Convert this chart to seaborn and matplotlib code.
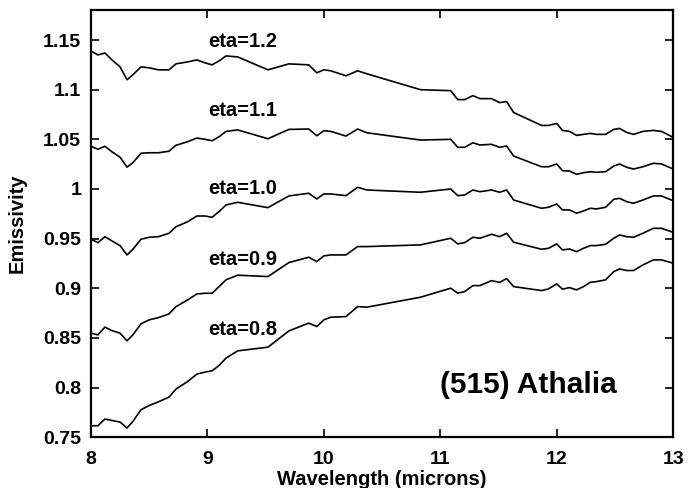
import numpy as np
import pandas as pd
import matplotlib
matplotlib.use("Agg")
import matplotlib.pyplot as plt
import matplotlib.ticker as plticker
import seaborn as sns

sns.set_style("ticks")
plt.rcParams['font.family'] = ['Liberation Sans', 'DejaVu Sans']
plt.rcParams['font.weight'] = 'bold'
plt.rcParams['text.color'] = 'black'
plt.rcParams['axes.labelcolor'] = 'black'
plt.rcParams['xtick.color'] = 'black'
plt.rcParams['ytick.color'] = 'black'

# wavelength grid (microns) shared by all curves
wavelength = [8.00, 8.06, 8.12, 8.18, 8.25, 8.31, 8.36, 8.43, 8.50, 8.58,
              8.67, 8.73, 8.83, 8.91, 8.98, 9.04, 9.10, 9.16, 9.26, 9.52,
              9.70, 9.87, 9.94, 10.00, 10.06, 10.19, 10.29, 10.37, 10.83, 11.09,
              11.15, 11.21, 11.28, 11.34, 11.44, 11.51, 11.57, 11.63, 11.87, 11.93,
              12.00, 12.05, 12.11, 12.17, 12.23, 12.29, 12.34, 12.42, 12.49, 12.54,
              12.60, 12.66, 12.74, 12.83, 12.90, 13.00]

emis_12 = [1.139, 1.135, 1.137, 1.130, 1.123, 1.110, 1.115, 1.123, 1.122, 1.120,
           1.120, 1.126, 1.128, 1.130, 1.127, 1.125, 1.129, 1.134, 1.133, 1.120,
           1.126, 1.125, 1.117, 1.120, 1.119, 1.114, 1.119, 1.116, 1.100, 1.099,
           1.090, 1.090, 1.094, 1.091, 1.091, 1.087, 1.088, 1.077, 1.064, 1.064,
           1.066, 1.059, 1.058, 1.054, 1.055, 1.056, 1.055, 1.055, 1.060, 1.061,
           1.057, 1.055, 1.058, 1.059, 1.058, 1.052]

emis_11 = [1.043, 1.040, 1.043, 1.0375, 1.032, 1.022, 1.0265, 1.036, 1.0365, 1.0365,
           1.038, 1.044, 1.0476, 1.0513, 1.050, 1.0486, 1.0526, 1.058, 1.0595, 1.0506,
           1.060, 1.0604, 1.0536, 1.0587, 1.058, 1.0533, 1.0604, 1.0566, 1.0493, 1.050,
           1.042, 1.042, 1.0466, 1.0443, 1.045, 1.042, 1.0433, 1.0332, 1.0224, 1.0224,
           1.0252, 1.0184, 1.0181, 1.0148, 1.0164, 1.0174, 1.0168, 1.0174, 1.0231, 1.0252,
           1.0219, 1.0201, 1.0224, 1.0259, 1.0252, 1.0201]

emis_10 = [0.9494, 0.946, 0.952, 0.9477, 0.943, 0.9336, 0.9393, 0.9494, 0.9514, 0.952,
           0.9554, 0.962, 0.967, 0.9728, 0.9728, 0.9715, 0.9772, 0.9839, 0.9866, 0.9812,
           0.993, 0.9957, 0.990, 0.995, 0.995, 0.9933, 1.0017, 0.999, 0.9967, 1.000,
           0.9933, 0.994, 0.999, 0.9973, 0.999, 0.9967, 0.999, 0.9889, 0.9806, 0.9816,
           0.9849, 0.9789, 0.9789, 0.9756, 0.9779, 0.9806, 0.9799, 0.9816, 0.9896, 0.9906,
           0.9873, 0.9856, 0.9889, 0.993, 0.993, 0.9882]

emis_09 = [0.8548, 0.8531, 0.8609, 0.8574, 0.8548, 0.8471, 0.8531, 0.8642, 0.8682, 0.8705,
           0.8742, 0.8815, 0.8883, 0.8943, 0.895, 0.895, 0.9017, 0.9085, 0.9132, 0.9118,
           0.9259, 0.9313, 0.9269, 0.9326, 0.9336, 0.9336, 0.942, 0.942, 0.9437, 0.9504,
           0.9447, 0.946, 0.9514, 0.9504, 0.9544, 0.952, 0.9554, 0.9464, 0.9393, 0.9403,
           0.9447, 0.9386, 0.9396, 0.9369, 0.9403, 0.943, 0.943, 0.9443, 0.9504, 0.9537,
           0.952, 0.9514, 0.9554, 0.9604, 0.9604, 0.9564]

emis_08 = [0.7616, 0.7616, 0.7683, 0.7669, 0.7653, 0.7593, 0.7659, 0.7777, 0.782, 0.7857,
           0.7904, 0.7985, 0.8061, 0.8136, 0.8156, 0.8169, 0.8222, 0.8297, 0.837, 0.8407,
           0.8571, 0.8649, 0.8615, 0.8682, 0.8709, 0.8715, 0.8816, 0.881, 0.891, 0.9001,
           0.8951, 0.8967, 0.9027, 0.9027, 0.9077, 0.906, 0.9098, 0.9017, 0.8977, 0.8994,
           0.9044, 0.8991, 0.9007, 0.8984, 0.9017, 0.9061, 0.9067, 0.9085, 0.9168, 0.9195,
           0.9179, 0.9179, 0.9235, 0.9286, 0.9286, 0.9253]

eta_labels = ['eta=1.2', 'eta=1.1', 'eta=1.0', 'eta=0.9', 'eta=0.8']
label_y = [1.149, 1.0795, 1.0, 0.929, 0.859]
y_ticks = [0.75, 0.8, 0.85, 0.9, 0.95, 1.0, 1.05, 1.1, 1.15]
x_ticks = [8, 9, 10, 11, 12, 13]

curves = [emis_12, emis_11, emis_10, emis_09, emis_08]
df = pd.concat([pd.DataFrame({'wavelength': wavelength, 'emissivity': c, 'eta': lab})
                for lab, c in zip(eta_labels, curves)], ignore_index=True)

fig = plt.figure(figsize=(6.89, 4.88), dpi=100)
ax = fig.add_axes([0.132, 0.104, 0.845, 0.875])

sns.lineplot(data=df, x='wavelength', y='emissivity', hue='eta', units='eta',
             estimator=None, palette=['black'] * 5, linewidth=1.2, legend=False, ax=ax,
             sort=False)

for lab, yy in zip(eta_labels, label_y):
    ax.text(9.01, yy, lab, fontsize=14.5, fontweight='bold', va='center', ha='left',
            color='black')

ax.text(11.0, 0.803, '(515) Athalia', fontsize=21.5, fontweight='bold', va='center',
        ha='left', color='black')

ax.set_xlim(8, 13)
ax.set_ylim(0.75, 1.18)
ax.xaxis.set_major_locator(plticker.FixedLocator(x_ticks))
ax.yaxis.set_major_locator(plticker.FixedLocator(y_ticks))
ax.yaxis.set_major_formatter(plticker.FuncFormatter(lambda v, p: f"{v:g}"))
ax.tick_params(direction='in', length=6, width=1.2, top=True, right=True,
               labelsize=14, colors='black')
ax.tick_params(axis='x', pad=10)
ax.tick_params(axis='y', pad=7)
for lab in ax.get_xticklabels() + ax.get_yticklabels():
    lab.set_fontweight('bold')
for sp in ax.spines.values():
    sp.set_visible(True)
    sp.set_linewidth(1.6)
    sp.set_color('black')

ax.set_xlabel('Wavelength (microns)', fontsize=14.5, fontweight='bold', labelpad=1)
ax.set_ylabel('Emissivity', fontsize=14.5, fontweight='bold', labelpad=12)

fig.savefig('out.png', dpi=100)
